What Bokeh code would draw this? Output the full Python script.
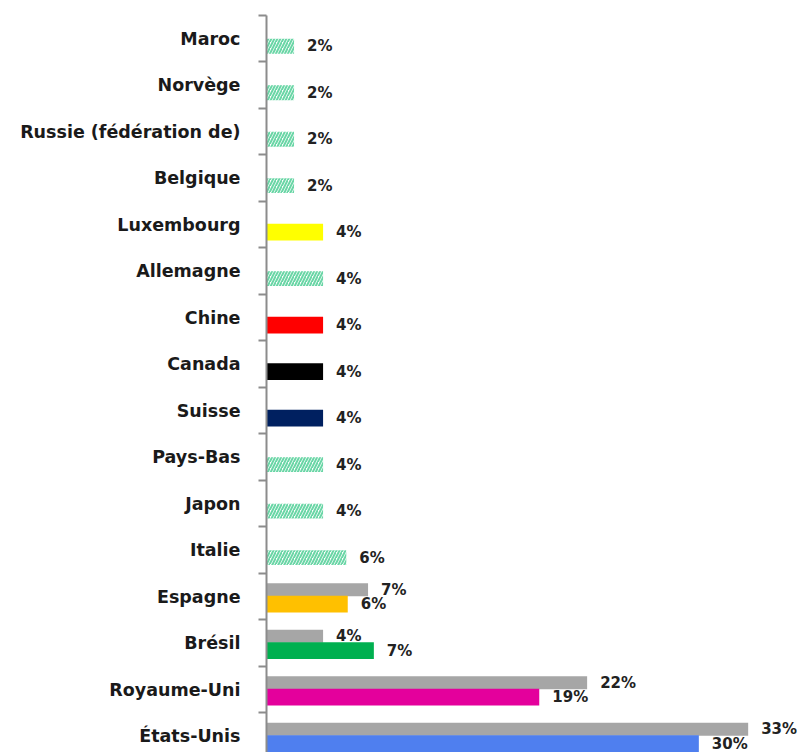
from bokeh.plotting import figure
from bokeh.models import Range1d, FixedTicker, ColumnDataSource
from bokeh.embed import file_html
from bokeh.resources import INLINE
from bokeh.core.properties import value

# ---- data (top to bottom) ----
countries = ["Maroc", "Norvège", "Russie (fédération de)", "Belgique", "Luxembourg",
             "Allemagne", "Chine", "Canada", "Suisse", "Pays-Bas", "Japon", "Italie",
             "Espagne", "Brésil", "Royaume-Uni", "États-Unis"]
current = [1.9, 1.9, 1.9, 1.9, 3.9, 3.9, 3.9, 3.9, 3.9, 3.9, 3.9, 5.5, 5.6, 7.4, 18.8, 29.8]
current_labels = ["2%", "2%", "2%", "2%", "4%", "4%", "4%", "4%", "4%", "4%", "4%",
                  "6%", "6%", "7%", "19%", "30%"]
colors = ["hatch", "hatch", "hatch", "hatch", "#ffff00", "hatch", "#ff0000", "#000000",
          "#002060", "hatch", "hatch", "hatch", "#ffc000", "#00b050", "#e4009c", "#4f7fef"]

previous_countries = ["Espagne", "Brésil", "Royaume-Uni", "États-Unis"]
previous = [7.0, 3.9, 22.1, 33.2]
previous_labels = ["7%", "4%", "22%", "33%"]

# ---- build sources ----
pos = {c: i for i, c in enumerate(countries)}
solid = dict(y=[], x=[], color=[])
hatch = dict(y=[], x=[])
for c, v, col in zip(countries, current, colors):
    if col == "hatch":
        hatch["y"].append(pos[c] + 0.16)
        hatch["x"].append(v)
    else:
        solid["y"].append(pos[c] + 0.16)
        solid["x"].append(v)
        solid["color"].append(col)

cur_lab = ColumnDataSource(dict(y=[pos[c] + 0.16 for c in countries], x=current, t=current_labels))
prev_src = ColumnDataSource(dict(y=[pos[c] - 0.15 for c in previous_countries], x=previous,
                                 t=previous_labels))

p = figure(width=797, height=752, output_backend="svg", toolbar_location=None,
           x_range=Range1d(0, 36.6), y_range=Range1d(15.35, -0.5),
           x_axis_location=None, min_border_left=266, min_border_right=0,
           min_border_top=15, min_border_bottom=0)
p.outline_line_color = None
p.xgrid.visible = False
p.ygrid.visible = False
p.background_fill_color = "white"

p.hbar(y="y", right="x", left=0, height=0.28, source=prev_src,
       fill_color="#a6a6a6", line_color=None)
p.hbar(y="y", right="x", left=0, height=0.36, source=ColumnDataSource(solid),
       fill_color="color", line_color=None)
p.hbar(y="y", right="x", left=0, height=0.32, source=ColumnDataSource(hatch),
       fill_color="white", line_color=None, hatch_pattern="/",
       hatch_color="#6ad6a6", hatch_scale=6, hatch_weight=2)

lab_kw = dict(x_offset=13, text_baseline="middle", text_align="left",
              text_font=value("DejaVu Sans"), text_font_style="bold",
              text_font_size="15px", text_color="#222222")
p.text(x="x", y="y", text="t", source=cur_lab, **lab_kw)
p.text(x="x", y="y", text="t", source=prev_src, **lab_kw)

ax = p.yaxis[0]
ax.ticker = FixedTicker(ticks=list(range(len(countries))),
                        minor_ticks=[i - 0.5 for i in range(len(countries) + 1)])
ax.major_label_overrides = {i: c for i, c in enumerate(countries)}
ax.axis_line_color = "#8c8c8c"
ax.axis_line_width = 2
ax.major_tick_line_color = None
ax.major_tick_out = 0
ax.major_tick_in = 0
ax.minor_tick_line_color = "#8c8c8c"
ax.minor_tick_line_width = 2
ax.minor_tick_out = 8
ax.minor_tick_in = 0
ax.major_label_standoff = 18
ax.major_label_text_font = "DejaVu Sans"
ax.major_label_text_font_style = "bold"
ax.major_label_text_font_size = "17.5px"
ax.major_label_text_color = "#1a1a1a"

open("out.html", "w").write(file_html(p, INLINE))
